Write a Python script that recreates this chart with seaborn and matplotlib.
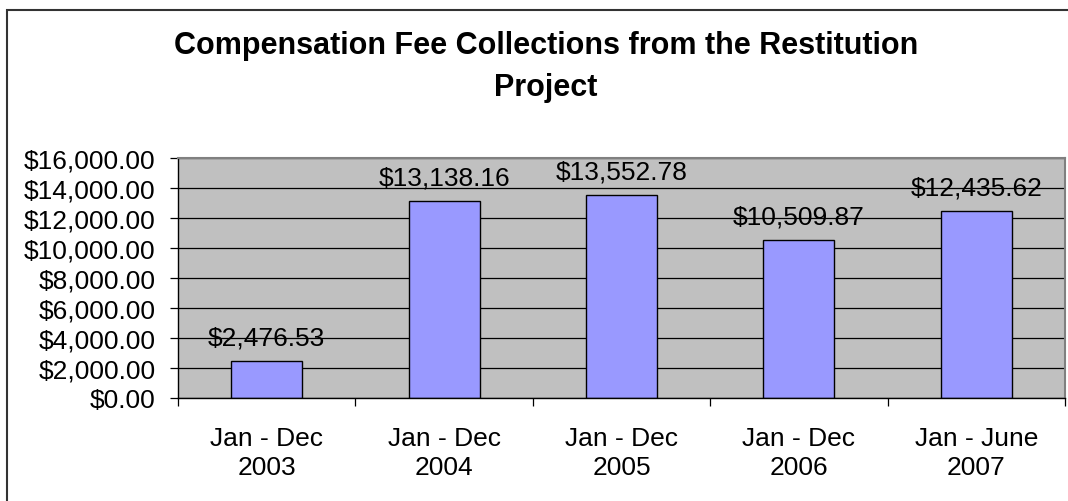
import numpy as np
import pandas as pd
import seaborn as sns
import matplotlib.pyplot as plt
from matplotlib.patches import Rectangle
from matplotlib.ticker import FuncFormatter, FixedLocator

periods = ['Jan - Dec\n2003', 'Jan - Dec\n2004', 'Jan - Dec\n2005',
           'Jan - Dec\n2006', 'Jan - June\n2007']
collections = [2476.53, 13138.16, 13552.78, 10509.87, 12435.62]

df = pd.DataFrame({'period': periods, 'amount': collections})

sns.set_style("white")
plt.rcParams['font.family'] = ['Liberation Sans', 'DejaVu Sans']
plt.rcParams['text.color'] = 'black'
plt.rcParams['xtick.color'] = 'black'
plt.rcParams['ytick.color'] = 'black'

fig = plt.figure(figsize=(10.68, 5.02), dpi=100)
ax = fig.add_axes([178 / 1068, 103 / 502, 887 / 1068, 240 / 502])

sns.barplot(data=df, x='period', y='amount', color='#9999FF',
            edgecolor='black', linewidth=1, width=0.4, saturation=1, ax=ax)

ax.set_facecolor('#C0C0C0')
ax.set_ylim(0, 16000)
ax.set_xlim(-0.5, 4.5)
ax.set_yticks(np.arange(0, 16001, 2000))
ax.yaxis.set_major_formatter(FuncFormatter(lambda v, p: f'${v:,.2f}'))
ax.yaxis.grid(True, color='black', linewidth=0.9)
ax.set_axisbelow(True)
ax.set_xlabel('')
ax.set_ylabel('')

ax.tick_params(axis='y', direction='out', length=6, width=0.9, color='black',
               labelcolor='black', labelsize=19, pad=10, left=True)
ax.tick_params(axis='x', which='major', length=0, labelsize=19, pad=20,
               labelcolor='black')
ax.xaxis.set_minor_locator(FixedLocator(np.arange(-0.5, 5, 1)))
ax.tick_params(axis='x', which='minor', direction='out', length=6, width=0.9,
               color='black', bottom=True)
for lbl in ax.get_xticklabels():
    lbl.set_linespacing(1.25)

for s in ['left', 'bottom']:
    ax.spines[s].set_color('black')
    ax.spines[s].set_linewidth(1)
for s in ['top', 'right']:
    ax.spines[s].set_color('#808080')
    ax.spines[s].set_linewidth(1.5)

for i, v in enumerate(collections):
    ax.annotate(f'${v:,.2f}', (i, v), xytext=(0, 12), textcoords='offset points',
                ha='center', va='baseline', fontsize=19, color='black')

fig.text(546 / 1068, 1 - 31 / 502,
         'Compensation Fee Collections from the Restitution\nProject',
         ha='center', va='top', fontsize=22, fontweight='bold',
         linespacing=1.52, color='black')

# chart area border (cropped on right and bottom)
fig.patches.append(Rectangle((7 / 1068, -0.1), 1.2, 1 - 11 / 502 + 0.1,
                             transform=fig.transFigure, fill=False,
                             edgecolor='#333333', linewidth=1.5))

fig.savefig('out.png', dpi=100)
